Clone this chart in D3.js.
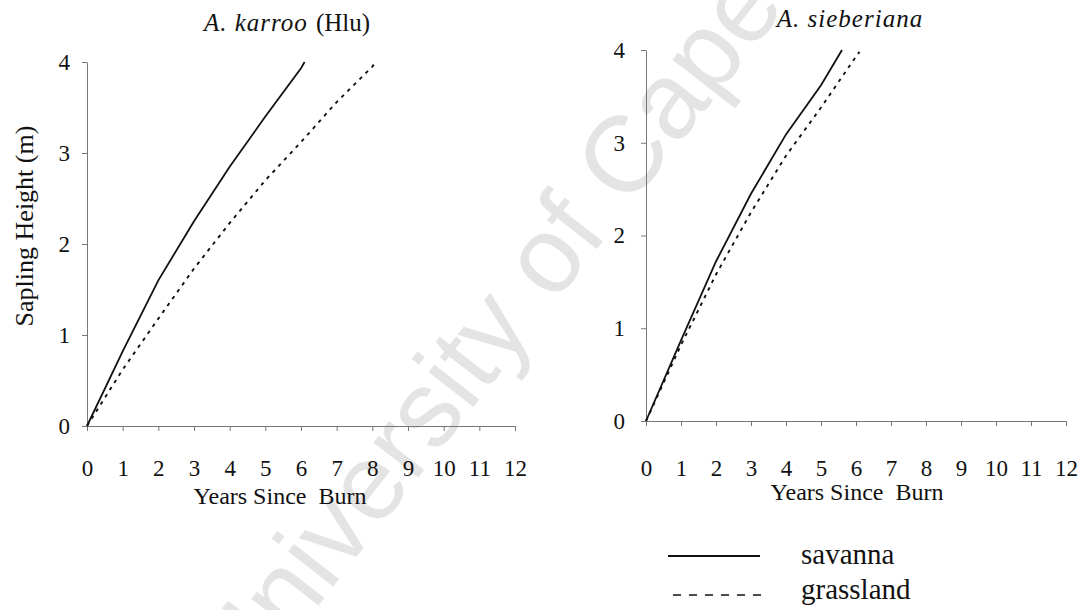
<!DOCTYPE html>
<html>
<head>
<meta charset="utf-8">
<script src="https://cdn.jsdelivr.net/npm/d3@7"></script>
<style>
  html, body { margin: 0; padding: 0; background: #fff; }
  svg { display: block; }
  .serif, .serif text { font-family: "Liberation Serif", "DejaVu Serif", "Times New Roman", serif; }
</style>
</head>
<body>
<svg id="chart" width="1084" height="610"></svg>
<script>
// ---------- data ----------
const xTicks = [0,1,2,3,4,5,6,7,8,9,10,11,12];
const yTicks = [0,1,2,3,4];

// A. karroo (Hlu)
const hluSavannaYears   = [0, 1,    2,    3,    4,    5,    6,    6.1];
const hluSavannaHeight  = [0, 0.82, 1.6,  2.25, 2.85, 3.4,  3.93, 4.0];
const hluGrassYears     = [0, 1,    2,    3,    4,    5,    6,    7,    8,    8.08];
const hluGrassHeight    = [0, 0.62, 1.18, 1.73, 2.23, 2.7,  3.12, 3.56, 3.95, 3.99];

// A. sieberiana
const siebSavannaYears  = [0, 1,    2,    3,    4,    5,    5.6];
const siebSavannaHeight = [0, 0.87, 1.72, 2.45, 3.09, 3.62, 4.0];
const siebGrassYears    = [0, 1,    2,    3,    4,    5,    6,    6.1];
const siebGrassHeight   = [0, 0.82, 1.58, 2.25, 2.86, 3.38, 3.93, 3.98];

const titles = ["A. karroo", "A. sieberiana"];
const seriesNames = ["savanna", "grassland"];
const xTitle = "Years Since  Burn";
const yTitle = "Sapling Height (m)";
const watermark = "University of Cape Town";

// ---------- drawing ----------
const svg = d3.select("#chart");
const SERIF = '"Liberation Serif", "DejaVu Serif", "Times New Roman", serif';

// watermark (behind everything)
svg.append("text")
  .attr("transform", "translate(572,220) rotate(-52)")
  .attr("text-anchor", "middle")
  .attr("dominant-baseline", "central")
  .style("font-family", '"Liberation Sans", Arial, sans-serif')
  .attr("font-size", 108)
  .attr("fill", "#e4e4e4")
  .text(watermark);

function zip(xs, ys) { return xs.map((x, i) => [x, ys[i]]); }

function serifText(sel, size) {
  return sel.attr("class", "serif").style("font-family", SERIF).attr("font-size", size).attr("fill", "#111");
}

function panel(cfg) {
  const x = d3.scaleLinear().domain([0, 12]).range([cfg.x0, cfg.x1]);
  const y = d3.scaleLinear().domain([0, 4]).range([cfg.y0, cfg.y1]);
  const g = svg.append("g");

  const ax = g.append("g")
    .attr("transform", `translate(0,${cfg.y0})`)
    .call(d3.axisBottom(x).tickValues(xTicks).tickFormat(d3.format("d"))
      .tickSize(5).tickSizeOuter(5).tickPadding(32));
  const ay = g.append("g")
    .attr("transform", `translate(${cfg.x0},0)`)
    .call(d3.axisLeft(y).tickValues(yTicks).tickFormat(d3.format("d"))
      .tickSize(5).tickSizeOuter(0).tickPadding(cfg.yPad));

  [ax, ay].forEach(a => {
    a.attr("font-family", null).attr("font-size", null);
    a.selectAll("path.domain").attr("stroke", "#777").attr("stroke-width", 1);
    a.selectAll(".tick line").attr("stroke", "#777").attr("stroke-width", 1);
    serifText(a.selectAll(".tick text"), 23);
  });
  ax.selectAll(".tick text").attr("dy", null).attr("y", cfg.tickLabelDy);

  const line = d3.line().x(d => x(d[0])).y(d => y(d[1]));
  g.append("path")
    .datum(zip(cfg.savYears, cfg.savHeight))
    .attr("d", line).attr("fill", "none")
    .attr("stroke", "#111").attr("stroke-width", 1.8);
  g.append("path")
    .datum(zip(cfg.grassYears, cfg.grassHeight))
    .attr("d", line).attr("fill", "none")
    .attr("stroke", "#111").attr("stroke-width", 1.9)
    .attr("stroke-dasharray", "3.5,5");

  // x axis title
  serifText(g.append("text"), 24)
    .attr("x", cfg.xTitleX).attr("y", cfg.xTitleY)
    .attr("text-anchor", "middle")
    .style("white-space", "pre")
    .text(xTitle);

  // title
  const t = serifText(g.append("text"), 25)
    .attr("x", cfg.titleX).attr("y", cfg.titleY)
    .attr("text-anchor", "middle");
  t.append("tspan").attr("font-style", "italic").attr("letter-spacing", 1).text(cfg.title);
  if (cfg.suffix) t.append("tspan").attr("dx", 8).text(cfg.suffix);
  return { x, y };
}

panel({
  x0: 87, x1: 515, y0: 426, y1: 62, yPad: 12, tickLabelDy: 50,
  savYears: hluSavannaYears, savHeight: hluSavannaHeight,
  grassYears: hluGrassYears, grassHeight: hluGrassHeight,
  title: titles[0], suffix: "(Hlu)", titleX: 287, titleY: 31,
  xTitleX: 280, xTitleY: 504
});

panel({
  x0: 646, x1: 1066, y0: 421, y1: 50, yPad: 16, tickLabelDy: 55,
  savYears: siebSavannaYears, savHeight: siebSavannaHeight,
  grassYears: siebGrassYears, grassHeight: siebGrassHeight,
  title: titles[1], suffix: null, titleX: 850, titleY: 27,
  xTitleX: 857, xTitleY: 500
});

// y axis title (left panel only)
serifText(svg.append("text"), 26)
  .attr("transform", "translate(33,226) rotate(-90)")
  .attr("text-anchor", "middle")
  .text(yTitle);

// legend
const legend = svg.append("g");
const legendRows = [
  { name: seriesNames[0], x1: 668, x2: 760, y: 556, dash: null, ty: 564 },
  { name: seriesNames[1], x1: 673, x2: 764, y: 595, dash: "8,8", ty: 599 }
];
legendRows.forEach(r => {
  legend.append("line")
    .attr("x1", r.x1).attr("x2", r.x2).attr("y1", r.y).attr("y2", r.y)
    .attr("stroke", "#111").attr("stroke-width", r.dash ? 1.4 : 2)
    .attr("stroke-dasharray", r.dash);
  serifText(legend.append("text"), 29)
    .attr("x", 801).attr("y", r.ty)
    .text(r.name);
});
</script>
</body>
</html>
